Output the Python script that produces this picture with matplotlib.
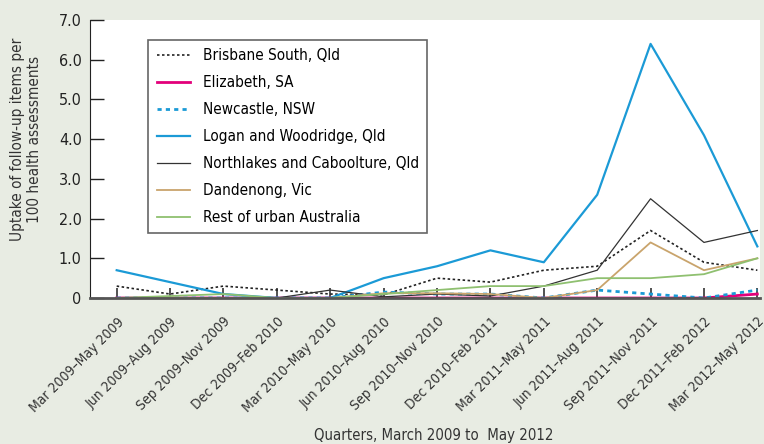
import matplotlib.pyplot as plt
import numpy as np

plt.rcParams['font.family'] = ['DejaVu Sans']
plt.rcParams['font.stretch'] = 'condensed'

# Data ------------------------------------------------------------------------

quarters = ['Mar 2009\u2013May 2009', 'Jun 2009\u2013Aug 2009', 'Sep 2009\u2013Nov 2009',
            'Dec 2009\u2013Feb 2010', 'Mar 2010\u2013May 2010', 'Jun 2010\u2013Aug 2010',
            'Sep 2010\u2013Nov 2010', 'Dec 2010\u2013Feb 2011', 'Mar 2011\u2013May 2011',
            'Jun 2011\u2013Aug 2011', 'Sep 2011\u2013Nov 2011', 'Dec 2011\u2013Feb 2012',
            'Mar 2012\u2013May 2012']

brisbane = [0.3, 0.1, 0.3, 0.2, 0.1, 0.08, 0.5, 0.4, 0.7, 0.8, 1.7, 0.9, 0.7]
elizabeth = [0, 0, 0, 0, 0, 0, 0, 0, 0, 0, 0, 0, 0.1]
newcastle = [0, 0, 0, 0, 0, 0.15, 0.1, 0.1, 0, 0.2, 0.1, 0, 0.2]
logan = [0.7, 0.4, 0.1, 0, 0, 0.5, 0.8, 1.2, 0.9, 2.6, 6.4, 4.1, 1.3]
northlakes = [0, 0, 0, 0, 0.2, 0.03, 0.1, 0.05, 0.3, 0.7, 2.5, 1.4, 1.7]
dandenong = [0, 0, 0, 0, 0, 0.12, 0.12, 0.1, 0, 0.2, 1.4, 0.7, 1.0]
rest = [0, 0.05, 0.1, 0, 0, 0.1, 0.2, 0.3, 0.3, 0.5, 0.5, 0.6, 1.0]

# Plot ------------------------------------------------------------------------

x = np.arange(len(quarters))
fig = plt.figure(figsize=(7.64, 4.44), dpi=100, facecolor='#e8ece3')
ax = fig.add_axes([0.1178, 0.3288, 0.877, 0.626])

ax.plot(x, brisbane, color='#222222', lw=1.2, ls=(0, (1.5, 1.5)), label='Brisbane South, Qld')
ax.plot(x, elizabeth, color='#e2007a', lw=2.0, label='Elizabeth, SA')
ax.plot(x, newcastle, color='#1b9ad6', lw=2.0, ls=(0, (1.5, 1.5)), label='Newcastle, NSW')
ax.plot(x, logan, color='#1b9ad6', lw=1.6, label='Logan and Woodridge, Qld')
ax.plot(x, northlakes, color='#333333', lw=0.9, label='Northlakes and Caboolture, Qld')
ax.plot(x, dandenong, color='#c9a46c', lw=1.3, label='Dandenong, Vic')
ax.plot(x, rest, color='#8fc070', lw=1.3, label='Rest of urban Australia')

ax.set_xlim(-0.5, 12.05)
ax.set_ylim(0, 7)
ax.set_yticks(np.arange(0, 8))
ax.set_yticklabels(['0'] + ['%.1f' % v for v in range(1, 8)])
ax.set_xticks(x)
ax.set_xticklabels(quarters, rotation=45, ha='right', rotation_mode='anchor')

for s in ['top', 'right']:
    ax.spines[s].set_visible(False)
ax.spines['left'].set_color('#222222')
ax.spines['bottom'].set_color('#555555')
ax.spines['bottom'].set_linewidth(2)
ax.tick_params(axis='y', direction='in', length=10, width=1, labelsize=11.5, colors='#222222', pad=6)
ax.tick_params(axis='x', direction='in', length=7, width=1.2, labelsize=10, colors='#333333', pad=12)

ax.set_ylabel('Uptake of follow-up items per\n100 health assessments', fontsize=11, color='#333333',
              linespacing=1.2)
ax.yaxis.set_label_coords(-0.071, 0.57)
fig.text(0.568, 0.02, 'Quarters, March 2009 to  May 2012', fontsize=10.7, color='#333333', ha='center', va='center')

leg = ax.legend(loc='upper left', bbox_to_anchor=(0.087, 0.928), borderaxespad=0,
                fontsize=11, labelspacing=0.78, handlelength=2.2, handletextpad=0.8,
                borderpad=0.55, fancybox=False, framealpha=1, edgecolor='#666666')
leg.get_frame().set_linewidth(1.2)

plt.savefig('out.png', dpi=100, facecolor=fig.get_facecolor())
